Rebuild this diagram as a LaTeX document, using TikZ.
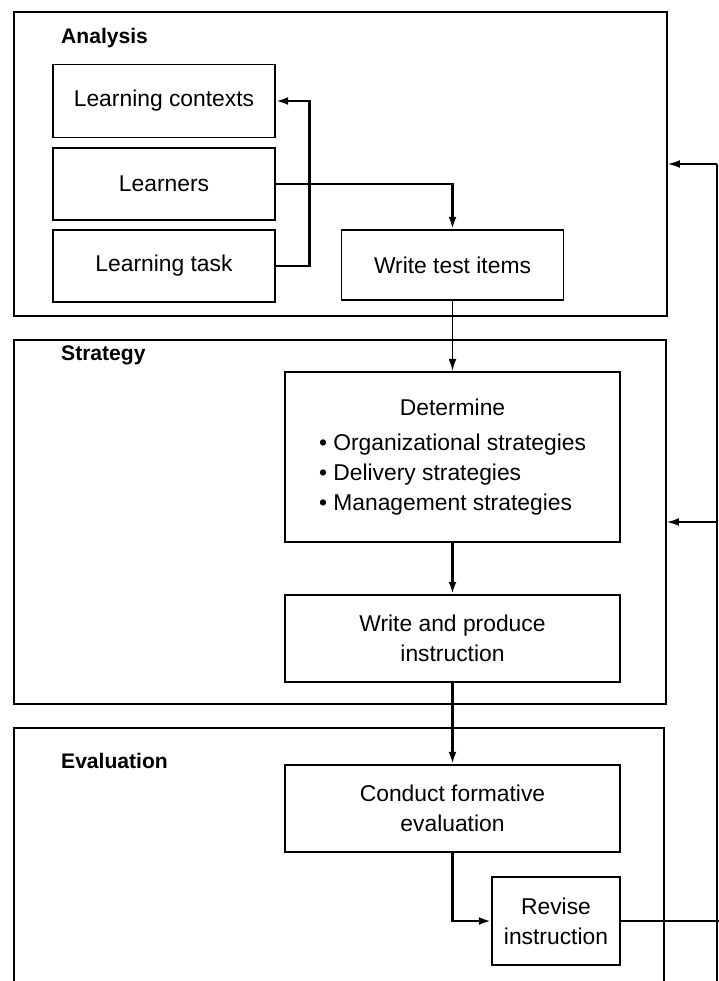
\documentclass[tikz,border=0pt]{standalone}
\usepackage{fontspec}
\setmainfont{Liberation Sans}
\usetikzlibrary{arrows.meta}

\begin{document}
\begin{tikzpicture}[x=0.02cm, y=-0.02cm, >={Latex[length=7pt,width=4.5pt]},
    phase/.style ={rectangle, draw, line width=0.8pt, inner sep=0pt},
    stepbox/.style ={rectangle, draw, line width=1pt, minimum width=4.44cm,
      align=center, font=\fontsize{13}{17}\selectfont},
    widebox/.style ={stepbox, minimum width=6.7cm, minimum height=1.74cm},
    title/.style ={anchor=base west, font=\bfseries\fontsize{12}{14}\selectfont},
    link/.style ={line width=1.6pt},
    feed/.style ={line width=1.1pt}]
   \useasboundingbox (0,0) rectangle (719,981);
   \clip (0,0) rectangle (719,981);
   % the three phases
   \node[phase, minimum width=13.06cm, minimum height=6.08cm] (analysis) at (340.5,164) {};
   \node[phase, minimum width=13.04cm, minimum height=7.28cm] (strategy) at (340,522) {};
   \node[phase, minimum width=13cm, minimum height=5.8cm] (evaluation) at (339,873) {};
   \node[title] (ta) at (55,43) {Analysis};
   \node[title] (ts) at (55,360) {Strategy};
   \node[title] (te) at (55,768) {Evaluation};
   % analysis
   \node[stepbox, minimum height=1.46cm] (ctx) at (164,101) {Learning contexts};
   \node[stepbox, minimum height=1.44cm] (lrn) at (164,184) {Learners};
   \node[stepbox, minimum height=1.44cm] (task) at (164,266) {Learning task};
   \node[stepbox, minimum height=1.4cm] (items) at (452.5,265) {Write test items};
   % strategy
   \node[widebox, minimum height=3.4cm] (det) at (452.5,457)
     {\begin{tabular}{@{}l@{}}\multicolumn{1}{@{}c@{}}{Determine}\\[3pt]
      • Organizational strategies\\ • Delivery strategies\\ • Management strategies\end{tabular}};
   \node[widebox] (prod) at (452.5,638.5) {Write and produce\\instruction};
   % evaluation
   \node[widebox] (form) at (452.5,808.5) {Conduct formative\\evaluation};
   \node[stepbox, minimum width=2.56cm, minimum height=1.76cm] (rev) at (556,921) {Revise\\instruction};
   % connectors
   \draw[link, <-] (ctx.east) -- ++(34,0) |- (task.east);
   \draw[link, ->] (lrn.east) -| (items.north);
   \draw[feed, ->] (items) -- (det);
   \draw[link, ->] (det) -- (prod);
   \draw[link, ->] (prod) -- (form);
   \draw[link, ->] (form.south) |- (rev.west);
   % feedback
   \coordinate (fbtop) at (717,164);
   \coordinate (fbend) at (717,990);
   \draw[feed] (fbtop) -- (fbend);
   \draw[link] (rev.east) -- ++(99,0);
   \draw[feed, ->] (fbtop) -- (analysis.east);
   \draw[feed, ->] (fbtop |- strategy.east) -- (strategy.east);
\end{tikzpicture}
\end{document}
